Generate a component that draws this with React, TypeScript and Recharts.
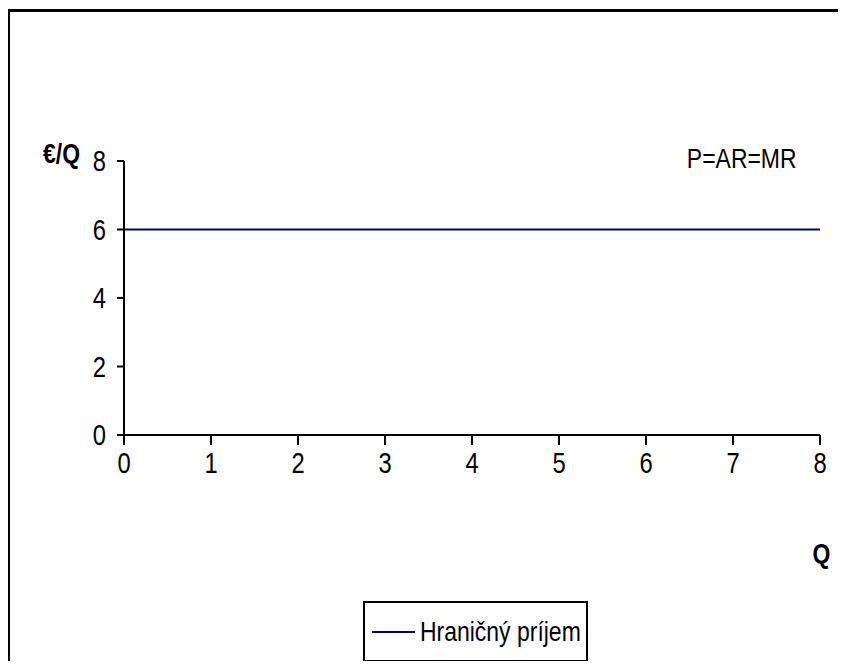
import React from 'react';
import { LineChart, Line, XAxis, YAxis, Legend, ReferenceDot } from 'recharts';

// Quantity on the horizontal axis
const quantities = [0, 1, 2, 3, 4, 5, 6, 7, 8];
// Marginal revenue for each quantity (constant price)
const marginalRevenue = [6, 6, 6, 6, 6, 6, 6, 6, 6];
const xTicks = [0, 1, 2, 3, 4, 5, 6, 7, 8];
const yTicks = [0, 2, 4, 6, 8];
const seriesName = 'Hraničný príjem';
const curveLabel = 'P=AR=MR';
const curveLabelX = 7.1;
const curveLabelY = 8.09;

const data = quantities.map((q, i) => ({ q, mr: marginalRevenue[i] }));

// Liberation Sans squeezed horizontally to get a narrow face
const FONT = "'Liberation Sans', Arial, sans-serif";
const SQUEEZE = 0.82;
const NAVY = '#000080';

const W = 830;
const H = 653;

type NarrowProps = {
  x: number;
  y: number;
  anchor?: 'start' | 'middle' | 'end';
  dy?: string;
  size?: number;
  bold?: boolean;
  children: React.ReactNode;
};

const NarrowText = ({ x, y, anchor = 'start', dy, size = 28, bold, children }: NarrowProps) => (
  <g transform={`translate(${x},${y})`}>
    <text
      transform={`scale(${SQUEEZE},1)`}
      x={0}
      y={0}
      dy={dy}
      textAnchor={anchor}
      fontFamily={FONT}
      fontSize={size}
      fontWeight={bold ? 'bold' : 'normal'}
      fill="#000"
    >
      {children}
    </text>
  </g>
);

const XTick = (props: any) => (
  <NarrowText x={props.x} y={props.y} anchor="middle" dy="0.71em" size={29}>
    {props.payload.value}
  </NarrowText>
);

const YTick = (props: any) => (
  <NarrowText x={props.x} y={props.y} anchor="end" dy="0.355em" size={29}>
    {props.payload.value}
  </NarrowText>
);

const renderLegend = () => (
  <div
    style={{
      boxSizing: 'border-box',
      width: 225,
      height: 61,
      border: '2px solid #000',
      background: '#fff',
      display: 'flex',
      alignItems: 'center',
      paddingLeft: 7,
      fontFamily: FONT,
      fontSize: 28,
      color: '#000',
      overflow: 'hidden',
    }}
  >
    <svg width={43} height={4} style={{ display: 'block', flexShrink: 0, marginRight: 5 }}>
      <line x1={0} y1={2} x2={43} y2={2} stroke={NAVY} strokeWidth={2} />
    </svg>
    <span
      style={{
        whiteSpace: 'nowrap',
        display: 'inline-block',
        transform: `scaleX(${SQUEEZE})`,
        transformOrigin: 'left center',
        flexShrink: 0,
      }}
    >
      {seriesName}
    </span>
  </div>
);

const yAxisLabel = (props: any) => {
  const vb = props.viewBox || {};
  return (
    <NarrowText x={vb.x + 35} y={vb.y + 2} bold>
      €/Q
    </NarrowText>
  );
};

const xAxisLabel = (props: any) => {
  const vb = props.viewBox || {};
  return (
    <NarrowText x={vb.x + vb.width + 1.5} y={vb.y + 128} anchor="middle" bold>
      Q
    </NarrowText>
  );
};

const curveLabelContent = (props: any) => {
  const vb = props.viewBox || {};
  const cx = vb.x + (vb.width || 0) / 2;
  const cy = vb.y + (vb.height || 0) / 2;
  return (
    <NarrowText x={cx} y={cy} anchor="middle" dy="0.355em">
      {curveLabel}
    </NarrowText>
  );
};

export default function App() {
  return (
    <div style={{ position: 'relative', width: W, height: H, background: '#fff' }}>
      <div
        style={{
          position: 'absolute',
          left: 0,
          top: 1,
          width: W,
          height: H - 1,
          boxSizing: 'border-box',
          borderTop: '3px solid #000',
          borderLeft: '2px solid #000',
          pointerEvents: 'none',
        }}
      />
      <LineChart
        width={W}
        height={H}
        data={data}
        margin={{ top: 153, right: 18, bottom: 166, left: 0 }}
      >
        <XAxis
          dataKey="q"
          type="number"
          domain={[0, 8]}
          ticks={xTicks}
          interval={0}
          height={60}
          axisLine={{ stroke: '#000', strokeWidth: 2 }}
          tickLine={{ stroke: '#000', strokeWidth: 2 }}
          tickSize={10}
          tickMargin={7}
          tick={XTick}
          label={xAxisLabel}
        />
        <YAxis
          type="number"
          domain={[0, 8]}
          ticks={yTicks}
          interval={0}
          width={116}
          axisLine={{ stroke: '#000', strokeWidth: 2 }}
          tickLine={{ stroke: '#000', strokeWidth: 2 }}
          tickSize={7}
          tickMargin={11}
          tick={YTick}
          label={yAxisLabel}
        />
        <Line
          type="linear"
          dataKey="mr"
          name={seriesName}
          stroke={NAVY}
          strokeWidth={2}
          dot={false}
          activeDot={false}
          isAnimationActive={false}
        />
        <ReferenceDot
          x={curveLabelX}
          y={curveLabelY}
          r={0}
          fill="none"
          stroke="none"
          ifOverflow="visible"
          label={curveLabelContent}
        />
        <Legend
          layout="horizontal"
          verticalAlign="middle"
          align="center"
          content={renderLegend}
          wrapperStyle={{ left: 355, top: 593, width: 225, height: 61 }}
        />
      </LineChart>
    </div>
  );
}
